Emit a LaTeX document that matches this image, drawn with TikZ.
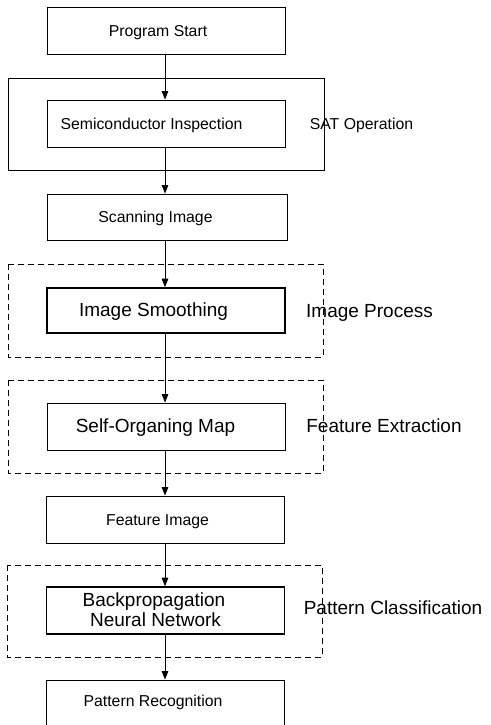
\documentclass[tikz,border=0pt]{standalone}
\usepackage{fontspec}
\setmainfont{Liberation Sans}
\usetikzlibrary{arrows.meta}
\begin{document}
\begin{tikzpicture}[x=1pt,y=1pt,
  box/.style={draw, line width=0.9pt, minimum width=238pt, minimum height=47pt, inner sep=0pt},
  boldbox/.style={box, line width=1.6pt},
  group/.style={draw, line width=0.9pt, inner sep=0pt},
  dgroup/.style={group, dash pattern=on 6pt off 4pt},
  small/.style={font=\fontsize{15.8}{18}\selectfont, inner sep=0pt, anchor=base},
  big/.style={font=\fontsize{19}{22}\selectfont, inner sep=0pt, anchor=base},
  flow/.style={-{Triangle[length=8.5pt,width=6.5pt]}, line width=0.9pt}]
\useasboundingbox (0,0) rectangle (490,-725);

% grouping frames
\draw[group]  (8,-78)  rectangle (324,-170);
\draw[dgroup] (8,-264) rectangle (323,-357);
\draw[dgroup] (8,-380) rectangle (323,-473);
\draw[dgroup] (7,-565) rectangle (322,-657);

% process boxes
\node[box]     (ps)  at (166,-30.5)  {};
\node[box]     (si)  at (166,-123.5) {};
\node[box, minimum width=240pt, minimum height=46pt] (sc) at (167,-217) {};
\node[boldbox, minimum height=45pt] (is) at (166,-310.5) {};
\node[box]     (som) at (166,-426.5) {};
\node[box]     (fi)  at (165.5,-519.5) {};
\node[boldbox] (bp)  at (165.5,-610.5) {};
\node[box]     (pr)  at (165.5,-703.5) {};

% box texts (placed on their baselines)
\node[small] (tps)  at (158,-36.5)    {Program Start};
\node[small] (tsi)  at (151.5,-129.5) {Semiconductor Inspection};
\node[small] (tsc)  at (155.5,-222.5) {Scanning Image};
\node[big]   (tis)  at (153.5,-316.7) {Image Smoothing};
\node[big]   (tsom) at (155.5,-432.5) {Self-Organing Map};
\node[small] (tfi)  at (157.5,-525)   {Feature Image};
\node[big]   (tbp1) at (154,-606.7)   {Backpropagation};
\node[big]   (tbp2) at (155.5,-626.3) {Neural Network};
\node[small] (tpr)  at (153,-706)     {Pattern Recognition};

% group captions
\node[small] (gsat) at (361.5,-129.5) {SAT Operation};
\node[big]   (gip)  at (369.5,-317)   {Image Process};
\node[big]   (gfe)  at (384,-432.5)   {Feature Extraction};
\node[big]   (gpc)  at (393,-614)     {Pattern Classification};

% flow arrows
\coordinate (ax) at (165,0);
\draw[flow] (ax |- ps.south)  -- (ax |- si.north);
\draw[flow] (ax |- si.south)  -- (ax |- sc.north);
\draw[flow] (ax |- sc.south)  -- (ax |- is.north);
\draw[flow] (ax |- is.south)  -- (ax |- som.north);
\draw[flow] (ax |- som.south) -- (ax |- fi.north);
\draw[flow] (ax |- fi.south)  -- (ax |- bp.north);
\draw[flow] (ax |- bp.south)  -- (ax |- pr.north);
\end{tikzpicture}
\end{document}
